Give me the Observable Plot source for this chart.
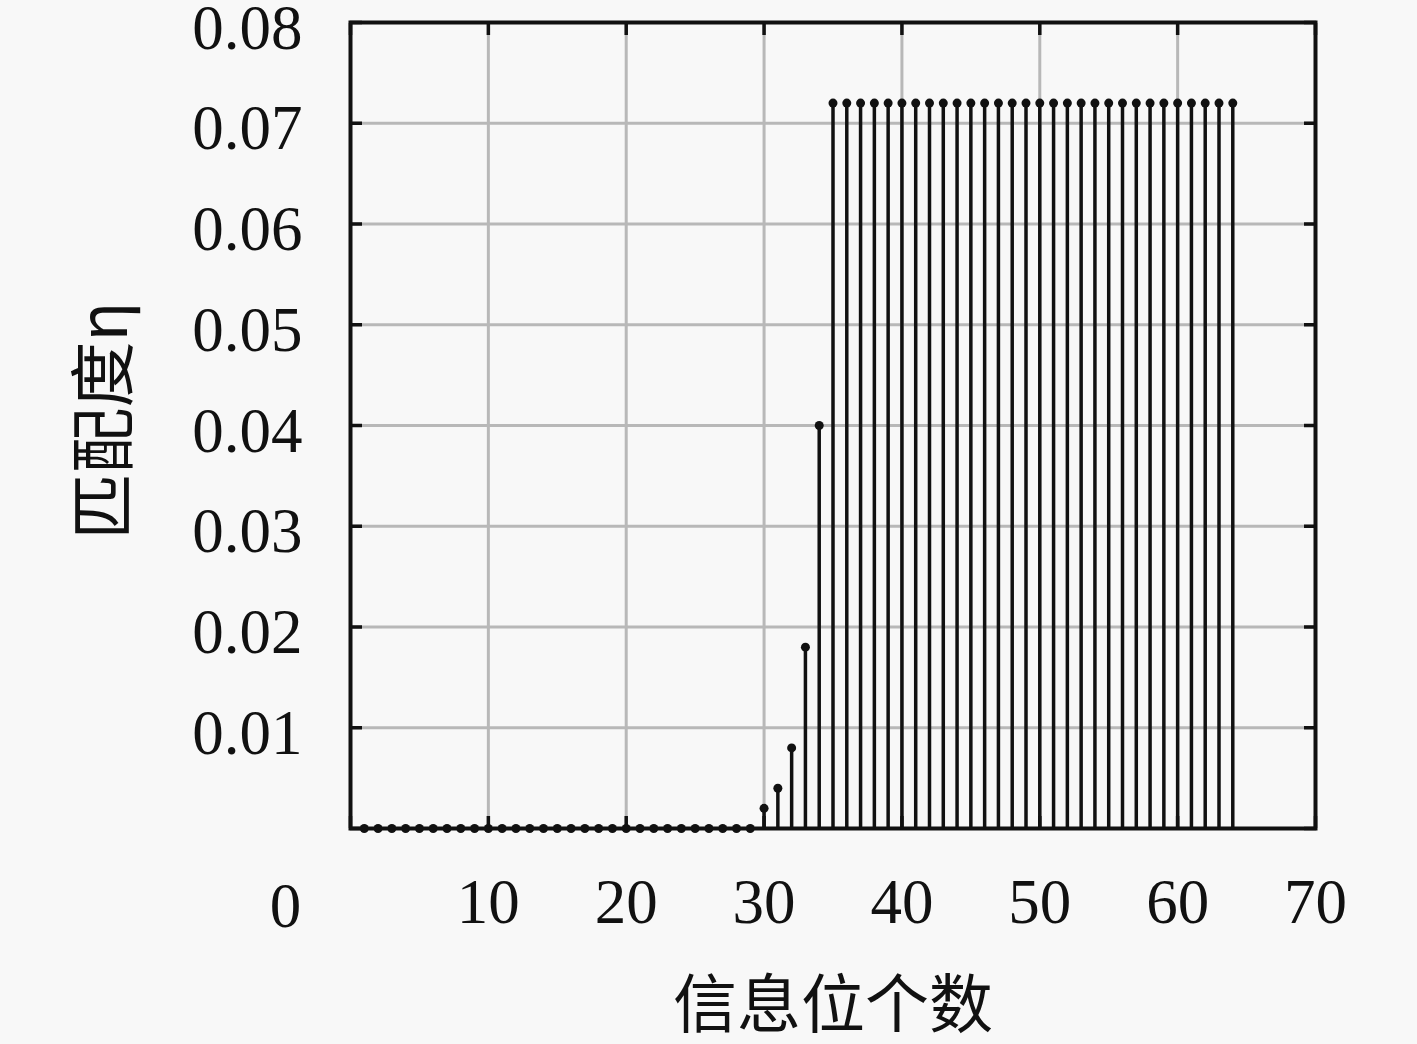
<!DOCTYPE html>
<html>
<head>
<meta charset="utf-8">
<script src="https://cdn.jsdelivr.net/npm/d3@7"></script>
<script src="https://cdn.jsdelivr.net/npm/@observablehq/plot@0.6"></script>
<style>
  html, body { margin: 0; padding: 0; background: #f8f8f8; }
  #chart { width: 1417px; height: 1044px; }
</style>
</head>
<body>
<div id="chart"></div>
<script>
// Data: number of information bits (x) vs matching degree η (y)
const bits = [
  1,2,3,4,5,6,7,8,9,10,11,12,13,14,15,16,17,18,19,20,
  21,22,23,24,25,26,27,28,29,30,31,32,33,34,35,36,37,38,39,40,
  41,42,43,44,45,46,47,48,49,50,51,52,53,54,55,56,57,58,59,60,
  61,62,63,64
];
const eta = [
  0,0,0,0,0,0,0,0,0,0,0,0,0,0,0,0,0,0,0,0,
  0,0,0,0,0,0,0,0,0,0.002,0.004,0.008,0.018,0.040,0.072,0.072,0.072,0.072,0.072,0.072,
  0.072,0.072,0.072,0.072,0.072,0.072,0.072,0.072,0.072,0.072,0.072,0.072,0.072,0.072,0.072,0.072,0.072,0.072,0.072,0.072,
  0.072,0.072,0.072,0.072
];
const xTickLabels = [10, 20, 30, 40, 50, 60, 70];
const xZeroLabel = [0];
const xAllTicks = [0, 10, 20, 30, 40, 50, 60, 70];
const xGrid = [10, 20, 30, 40, 50, 60];
const yTicks = [0.01, 0.02, 0.03, 0.04, 0.05, 0.06, 0.07, 0.08];
const yAllTicks = [0, 0.01, 0.02, 0.03, 0.04, 0.05, 0.06, 0.07, 0.08];
const yGrid = [0.01, 0.02, 0.03, 0.04, 0.05, 0.06, 0.07];
const xLabel = "信息位个数";
const yLabel = "匹配度η";

const rows = bits.map((b, i) => ({x: b, y: eta[i]}));

const serif = "'Liberation Serif', 'DejaVu Serif', serif";
const cjk = "'Noto Sans CJK SC', sans-serif";
const empty = () => "";

const chart = Plot.plot({
  width: 1417,
  height: 1044,
  marginLeft: 350,
  marginRight: 102,
  marginTop: 22,
  marginBottom: 216,
  style: {background: "#f8f8f8", fontFamily: serif, color: "#111", overflow: "visible"},
  x: {domain: [0, 70], axis: null},
  y: {domain: [0, 0.08], axis: null},
  marks: [
    Plot.gridX(xGrid, {stroke: "#b8b8b8", strokeOpacity: 1, strokeWidth: 3}),
    Plot.gridY(yGrid, {stroke: "#b8b8b8", strokeOpacity: 1, strokeWidth: 3}),
    // inward ticks on all four sides
    Plot.axisX(xAllTicks, {anchor: "bottom", tickSize: -12, strokeWidth: 3.5, tickFormat: empty, label: null}),
    Plot.axisX(xAllTicks, {anchor: "top", tickSize: -12, strokeWidth: 3.5, tickFormat: empty, label: null}),
    Plot.axisY(yAllTicks, {anchor: "left", tickSize: -12, strokeWidth: 3.5, tickFormat: empty, label: null}),
    Plot.axisY(yAllTicks, {anchor: "right", tickSize: -12, strokeWidth: 3.5, tickFormat: empty, label: null}),
    // tick labels
    Plot.axisX(xTickLabels, {anchor: "bottom", tickSize: 0, tickPadding: 50, fontSize: 63, fontFamily: serif, fill: "#111", label: null, tickFormat: d => String(d)}),
    Plot.text(xZeroLabel, {x: d => d, frameAnchor: "bottom", lineAnchor: "middle", text: d => String(d), dy: 78, dx: -65, fontSize: 63, fontFamily: serif, fill: "#111"}),
    Plot.axisY(yTicks, {anchor: "left", tickSize: 0, tickPadding: 48, dy: 6, fontSize: 63, fontFamily: serif, fill: "#111", label: null, tickFormat: d => d.toFixed(2)}),
    // stems
    Plot.ruleX(rows, {x: "x", y1: 0, y2: "y", stroke: "#111", strokeWidth: 3.5}),
    Plot.dot(rows, {x: "x", y: "y", r: 4.5, fill: "#111", stroke: "none"}),
    Plot.frame({stroke: "#111", strokeWidth: 4}),
    // axis titles
    Plot.text([xLabel], {frameAnchor: "bottom", lineAnchor: "middle", textAnchor: "middle", text: d => d, dy: 178, fontSize: 64, fontFamily: cjk, fill: "#111"}),
    Plot.text([yLabel], {frameAnchor: "left", lineAnchor: "middle", textAnchor: "middle", text: d => d, dx: -245, dy: -5, rotate: -90, fontSize: 66, fontFamily: cjk, fill: "#111"})
  ]
});
document.getElementById("chart").appendChild(chart);
</script>
</body>
</html>
